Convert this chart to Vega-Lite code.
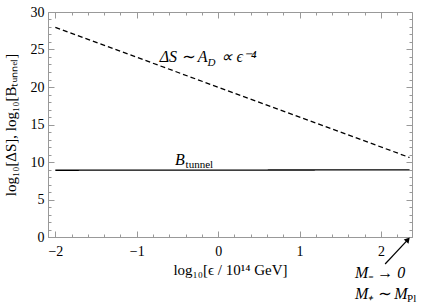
{
  "$schema": "https://vega.github.io/schema/vega-lite/v6.json",
  "autosize": "none",
  "width": 364,
  "height": 225,
  "padding": {"left": 48, "top": 12, "right": 11, "bottom": 68},
  "config": {
    "view": {"stroke": "#999999", "strokeWidth": 1},
    "font": "Liberation Serif",
    "axis": {"grid": false, "domainColor": "#999999", "tickColor": "#999999", "labelFont": "Liberation Serif", "titleFont": "Liberation Serif", "labelFontSize": 14, "titleFontSize": 15, "labelColor": "#000000", "titleColor": "#000000", "titleFontWeight": "normal"}
  },
  "datasets": {
    "lines": [
      {"series": "dS", "x": -2.0, "y": 27.95},
      {"series": "dS", "x": 2.35, "y": 10.6},
      {"series": "B", "x": -2.0, "y": 8.9},
      {"series": "B", "x": 2.35, "y": 8.95}
    ],
    "labelsR": [
      {"t": "ΔS ∼ A", "x": -0.13, "y": 23.4}
    ],
    "labels": [
      {"t": "∝ ϵ⁻⁴", "x": 0.04, "y": 23.4},
      {"t": "B", "x": -0.53, "y": 9.6},
      {"t": "M₋ → 0", "x": 1.68, "y": -5.5},
      {"t": "M₊ ∼ M", "x": 1.68, "y": -8.2}
    ],
    "sub": [
      {"t": "D", "x": -0.13, "y": 23.4}
    ],
    "subUp": [
      {"t": "tunnel", "x": -0.40, "y": 9.6},
      {"t": "Pl", "x": 2.32, "y": -8.2}
    ],
    "arrow": [
      {"x": 2.05, "y": -3.6, "x2": 2.33, "y2": -0.35}
    ]
  },
  "resolve": {"axis": {"x": "independent", "y": "independent"}},
  "layer": [
    {
      "data": {"name": "lines"},
      "mark": {"type": "line", "color": "black", "strokeWidth": 1.3},
      "encoding": {
        "x": {"field": "x", "type": "quantitative", "scale": {"domain": [-2.09, 2.38], "nice": false, "zero": false},
          "axis": {"orient": "bottom", "title": "log₁₀[ϵ / 10¹⁴ GeV]", "titlePadding": 4,
            "values": [-2,-1.8,-1.6,-1.4,-1.2,-1,-0.8,-0.6,-0.4,-0.2,0,0.2,0.4,0.6,0.8,1,1.2,1.4,1.6,1.8,2,2.2],
            "labelExpr": "abs(datum.value - round(datum.value)) < 0.001 ? (datum.value < 0 ? '−' + abs(datum.value) : datum.value) : ''",
            "tickSize": {"condition": {"test": "abs(datum.value - round(datum.value)) < 0.001", "value": -6}, "value": -3},
            "labelPadding": 13, "labelFlush": false}},
        "y": {"field": "y", "type": "quantitative", "scale": {"domain": [0, 30], "nice": false},
          "axis": {"orient": "left", "title": "log₁₀[ΔS], log₁₀[Bₜᵤₙₙₑₗ]", "titlePadding": 12,
            "values": [0,1,2,3,4,5,6,7,8,9,10,11,12,13,14,15,16,17,18,19,20,21,22,23,24,25,26,27,28,29,30],
            "labelExpr": "datum.value % 5 === 0 ? datum.value : ''",
            "tickSize": {"condition": {"test": "datum.value % 5 === 0", "value": -6}, "value": -3},
            "labelPadding": 10}},
        "detail": {"field": "series"},
        "strokeDash": {"field": "series", "type": "nominal", "scale": {"domain": ["dS", "B"], "range": [[5, 3], [1, 0]]}, "legend": null}
      }
    },
    {
      "data": {"name": "labels"},
      "mark": {"type": "text", "align": "left", "baseline": "alphabetic", "fontSize": 16, "fontStyle": "italic", "font": "Liberation Serif"},
      "encoding": {
        "x": {"field": "x", "type": "quantitative",
          "axis": {"orient": "top", "title": null, "labels": false, "domain": false,
            "values": [-2,-1.8,-1.6,-1.4,-1.2,-1,-0.8,-0.6,-0.4,-0.2,0,0.2,0.4,0.6,0.8,1,1.2,1.4,1.6,1.8,2,2.2],
            "tickSize": {"condition": {"test": "abs(datum.value - round(datum.value)) < 0.001", "value": -6}, "value": -3}}},
        "y": {"field": "y", "type": "quantitative",
          "axis": {"orient": "right", "title": null, "labels": false, "domain": false,
            "values": [0,1,2,3,4,5,6,7,8,9,10,11,12,13,14,15,16,17,18,19,20,21,22,23,24,25,26,27,28,29,30],
            "tickSize": {"condition": {"test": "datum.value % 5 === 0", "value": -6}, "value": -3}}},
        "text": {"field": "t"}
      }
    },
    {
      "data": {"name": "labelsR"},
      "mark": {"type": "text", "align": "right", "baseline": "alphabetic", "fontSize": 16, "fontStyle": "italic", "font": "Liberation Serif"},
      "encoding": {
        "x": {"field": "x", "type": "quantitative", "axis": null},
        "y": {"field": "y", "type": "quantitative", "axis": null},
        "text": {"field": "t"}
      }
    },
    {
      "data": {"name": "sub"},
      "mark": {"type": "text", "align": "left", "baseline": "alphabetic", "fontSize": 11, "fontStyle": "italic", "dy": 4, "font": "Liberation Serif"},
      "encoding": {
        "x": {"field": "x", "type": "quantitative", "axis": null},
        "y": {"field": "y", "type": "quantitative", "axis": null},
        "text": {"field": "t"}
      }
    },
    {
      "data": {"name": "subUp"},
      "mark": {"type": "text", "align": "left", "baseline": "alphabetic", "fontSize": 11, "dy": 3, "font": "Liberation Serif"},
      "encoding": {
        "x": {"field": "x", "type": "quantitative", "axis": null},
        "y": {"field": "y", "type": "quantitative", "axis": null},
        "text": {"field": "t"}
      }
    },
    {
      "data": {"name": "arrow"},
      "mark": {"type": "rule", "color": "black", "strokeWidth": 1.2},
      "encoding": {
        "x": {"field": "x", "type": "quantitative", "axis": null},
        "y": {"field": "y", "type": "quantitative", "axis": null},
        "x2": {"field": "x2"},
        "y2": {"field": "y2"}
      }
    },
    {
      "data": {"name": "arrow"},
      "mark": {"type": "point", "shape": "triangle-up", "filled": true, "color": "black", "size": 40, "angle": 42, "opacity": 1},
      "encoding": {
        "x": {"field": "x2", "type": "quantitative", "axis": null},
        "y": {"field": "y2", "type": "quantitative", "axis": null}
      }
    }
  ]
}
